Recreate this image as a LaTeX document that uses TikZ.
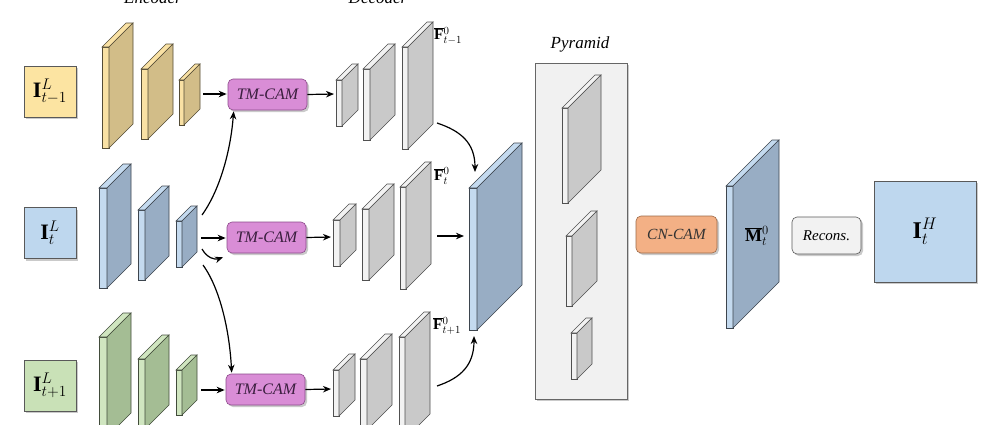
\documentclass[tikz,border=0pt]{standalone}
\usepackage{fix-cm}
\usepackage{fontspec}
\setmainfont{Liberation Serif}
\usetikzlibrary{shadows,arrows.meta}

\definecolor{yelin}{HTML}{FCE4A2}
\definecolor{yelfront}{HTML}{F9E1A4}
\definecolor{yelside}{HTML}{D2BD88}
\definecolor{bluin}{HTML}{BED7EE}
\definecolor{blufront}{HTML}{C4DAEF}
\definecolor{bluside}{HTML}{98ADC4}
\definecolor{grnin}{HTML}{C9E1B7}
\definecolor{grnfront}{HTML}{D0E6C0}
\definecolor{grnside}{HTML}{A4BD94}
\definecolor{gryfront}{HTML}{F2F2F2}
\definecolor{gryside}{HTML}{C9C9C9}
\definecolor{tmfill}{HTML}{D98DD6}
\definecolor{tmdraw}{HTML}{8C4A8A}
\definecolor{tmtext}{HTML}{3A1E3E}
\definecolor{cnfill}{HTML}{F3B085}
\definecolor{cndraw}{HTML}{9C6A48}
\definecolor{panelfill}{HTML}{F1F1F1}

\tikzset{
  softshadow/.style={drop shadow={shadow xshift=2pt, shadow yshift=-2pt, opacity=0.35, fill=black!60}},
  inbox/.style={draw=black!65, line width=0.6pt, minimum width=52pt, minimum height=51pt,
    inner sep=0pt, softshadow, font=\fontsize{22}{24}\selectfont},
  cambox/.style={rounded corners=5pt, line width=0.6pt, minimum height=31pt, inner sep=0pt,
    softshadow, font=\itshape\fontsize{16}{18}\selectfont},
  tmcam/.style={cambox, draw=tmdraw, fill=tmfill, text=tmtext, minimum width=79pt},
  flow/.style={-{Stealth[length=8pt, width=6.5pt, inset=2.5pt]}, line width=1.2pt, shorten >=1pt},
  titlelabel/.style={font=\itshape\fontsize{17}{20}\selectfont, anchor=base, inner sep=0pt},
  featlabel/.style={font=\fontsize{15.5}{18}\selectfont, anchor=west, inner sep=0pt}
}

\begin{document}
\begin{tikzpicture}[x=1pt, y=-1pt]
  % Slab: x, y of front top left, front width, height, depth, front colour, side colour
  \newcommand{\FeatSlab}[7]{%
    \filldraw[draw=#7!40!black, fill=#6, line width=0.6pt] (#1,#2) rectangle ++(#3,#4);
    \filldraw[draw=#7!40!black, fill=#6, line width=0.6pt] (#1,#2) -- ++(#5,-#5) -- ++(#3,0) -- ++(-#5,#5) -- cycle;
    \filldraw[draw=#7!40!black, fill=#7, line width=0.6pt] (#1+#3,#2) -- ++(#5,-#5) -- ++(0,#4) -- ++(-#5,#5) -- cycle;
  }

  \useasboundingbox (0,0) rectangle (994,424);

  % Titles
  \node[titlelabel] (enclabel) at (153,3) {Encoder};
  \node[titlelabel] (declabel) at (378,3) {Decoder};
  \node[titlelabel] (pyrlabel) at (580,48) {Pyramid};

  % Inputs
  \node[inbox, fill=yelin] (inA) at (50,91.5) {$\mathbf{I}^{L}_{t-1}$};
  \node[inbox, fill=bluin] (inB) at (50,233) {$\mathbf{I}^{L}_{t}$};
  \node[inbox, fill=grnin] (inC) at (50,385.5) {$\mathbf{I}^{L}_{t+1}$};

  % Encoder
  \FeatSlab{102}{47}{7}{101}{24}{yelfront}{yelside}
  \FeatSlab{141}{69}{7}{70}{25}{yelfront}{yelside}
  \FeatSlab{179}{80}{5}{45}{16}{yelfront}{yelside}

  \FeatSlab{99}{188}{8}{100}{24}{blufront}{bluside}
  \FeatSlab{138}{210}{7}{70}{24}{blufront}{bluside}
  \FeatSlab{176}{221}{6}{46}{15}{blufront}{bluside}

  \FeatSlab{99}{337}{8}{100}{24}{grnfront}{grnside}
  \FeatSlab{138}{359}{7}{70}{24}{grnfront}{grnside}
  \FeatSlab{176}{370}{6}{45}{15}{grnfront}{grnside}

  \coordinate (encAout) at (203,94);
  \coordinate (encBout) at (201,238);
  \coordinate (encCout) at (201,390);
  \coordinate (encBup) at (202,215);
  \coordinate (encBdown) at (203,265);
  \coordinate (encBside) at (202,249);
  \coordinate (encBtip) at (224,257);

  % TM-CAM
  \node[tmcam] (tmA) at (267.5,94.5) {TM-CAM};
  \node[tmcam] (tmB) at (266.5,237.5) {TM-CAM};
  \node[tmcam] (tmC) at (265.5,389.5) {TM-CAM};

  \draw[flow] (encAout) -- (tmA.west |- encAout);
  \draw[flow] (encBout) -- (tmB.west |- encBout);
  \draw[flow] (encCout) -- (tmC.west |- encCout);
  \draw[flow] (encBup) .. controls +(18,-25) and +(-3,40) .. ([xshift=6pt]tmA.south west);
  \draw[flow] (encBdown) .. controls +(18,25) and +(-2,-40) .. ([xshift=6pt]tmC.north west);
  \draw[flow] (encBside) .. controls +(5,9) and +(-9,3) .. (encBtip);

  % Decoder
  \coordinate (decAin) at (335,94);
  \coordinate (decBin) at (332,237);
  \coordinate (decCin) at (332,389);
  \draw[flow] (tmA.east) -- (decAin);
  \draw[flow] (tmB.east) -- (decBin);
  \draw[flow] (tmC.east) -- (decCin);

  \FeatSlab{336}{80}{6}{46}{16}{gryfront}{gryside}
  \FeatSlab{363}{69}{7}{71}{25}{gryfront}{gryside}
  \FeatSlab{402}{47}{6}{102}{25}{gryfront}{gryside}

  \FeatSlab{333}{220}{7}{46}{16}{gryfront}{gryside}
  \FeatSlab{362}{209}{7}{71}{25}{gryfront}{gryside}
  \FeatSlab{400}{187}{6}{102}{25}{gryfront}{gryside}

  \FeatSlab{333}{370}{6}{46}{16}{gryfront}{gryside}
  \FeatSlab{360}{359}{7}{71}{25}{gryfront}{gryside}
  \FeatSlab{399}{337}{6}{102}{25}{gryfront}{gryside}

  \node[featlabel] (featA) at (434,36) {$\overline{\mathbf{F}}{}^{0}_{t-1}$};
  \node[featlabel] (featB) at (434,176) {$\overline{\mathbf{F}}{}^{0}_{t}$};
  \node[featlabel] (featC) at (433,326) {$\overline{\mathbf{F}}{}^{0}_{t+1}$};

  % Fusion
  \FeatSlab{469}{188}{8}{142}{45}{blufront}{bluside}
  \coordinate (decAout) at (437,123);
  \coordinate (decBout) at (437,236);
  \coordinate (decCout) at (437,386);
  \coordinate (fuseA) at (475,173);
  \coordinate (fuseB) at (465,236);
  \coordinate (fuseC) at (474,335);
  \draw[flow] (decAout) .. controls +(24,8) and +(0,-30) .. (fuseA);
  \draw[flow] (decBout) -- (fuseB);
  \draw[flow] (decCout) .. controls +(24,-8) and +(0,30) .. (fuseC);

  % Pyramid
  \node[draw=black!60, fill=panelfill, line width=0.6pt, minimum width=92pt, minimum height=336pt,
    inner sep=0pt, softshadow] (pyramid) at (581,231) {};
  \FeatSlab{562}{108}{6}{95}{33}{gryfront}{gryside}
  \FeatSlab{566}{236}{6}{70}{25}{gryfront}{gryside}
  \FeatSlab{571}{333}{6}{46}{15}{gryfront}{gryside}

  % Reconstruction
  \node[cambox, draw=cndraw, fill=cnfill, text=black!80, minimum width=81pt, minimum height=37pt,
    font=\itshape\fontsize{15.5}{18}\selectfont] (cncam) at (676.5,234.5) {CN-CAM};
  \FeatSlab{726}{186}{7}{142}{46}{blufront}{bluside}
  \node[font=\fontsize{18}{20}\selectfont, inner sep=0pt] (mlabel) at (757,236) {$\overline{\mathbf{M}}{}^{0}_{t}$};
  \node[cambox, draw=black!65, fill=gryfront, minimum width=69pt, minimum height=37pt,
    font=\itshape\fontsize{15}{18}\selectfont] (recons) at (826.5,235.5) {Recons.};
  \node[inbox, fill=bluin, minimum width=102pt, minimum height=101pt,
    font=\fontsize{24}{26}\selectfont] (outH) at (925,231.5) {$\mathbf{I}^{H}_{t}$};
\end{tikzpicture}
\end{document}
